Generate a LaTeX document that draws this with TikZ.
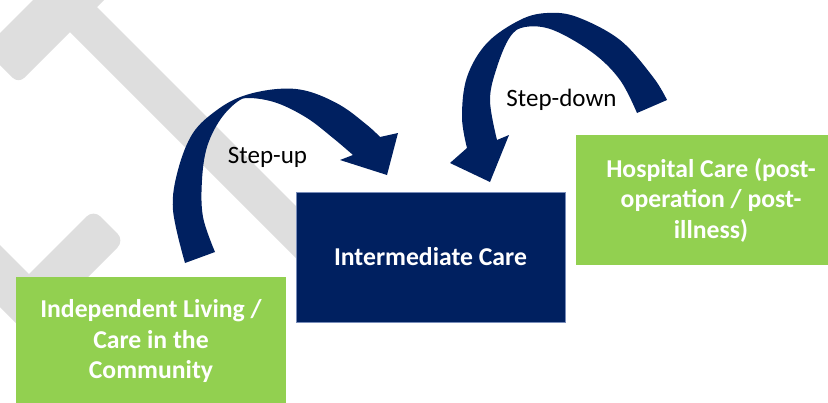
\documentclass[tikz,border=0pt]{standalone}
\usepackage{fontspec}
\setmainfont{Carlito}
\definecolor{navy}{RGB}{0,32,96}
\definecolor{lgreen}{RGB}{146,208,80}
\definecolor{wmgray}{RGB}{222,222,222}
\definecolor{navyedge}{RGB}{120,140,185}
\begin{document}
\begin{tikzpicture}[x=1pt,y=-1pt,
  boxtext/.style={font=\bfseries\fontsize{25.7}{30.5}\selectfont, text=white, align=center, inner sep=0pt, outer sep=0pt},
  steplabel/.style={font=\fontsize{25}{30}\selectfont, text=black, anchor=base, inner sep=0pt},
  bentarrow/.style={fill=navy}]
\useasboundingbox (0,0) rectangle (828,402);
\fill[white] (0,0) rectangle (828,402);
% watermark
\fill[wmgray] (-16,49) [rounded corners=8pt] -- (18.5,83.5) [sharp corners] -- (70,32) -- (340,302) -- (340,250) -- (97,7) -- (120,-16) -- (49,-16) -- cycle;
\fill[wmgray] (29,274) [rounded corners=10pt] -- (93.5,209.5) -- (124.5,240.5) [sharp corners] -- (29,336) -- (-20,287) -- (-20,225) -- cycle;
% boxes
\node[boxtext, fill=lgreen, minimum width=270pt, minimum height=128pt] (indep) at (151,341) {Independent Living /\\Care in the\\Community};
\node[boxtext, fill=lgreen, minimum width=270pt, minimum height=130pt] (hosp) at (711,200) {Hospital Care (post-\\operation / post-\\illness)};
\node[boxtext, fill=navy, draw=navyedge, line width=0.5pt, minimum width=269pt, minimum height=130pt] (inter) at (430.5,257) {Intermediate Care};
% curved arrows
\fill[bentarrow] plot[smooth,tension=0.6] coordinates {(185,263) (173,210) (178,170) (193,133) (217,110) (243,96) (277,89) (307,91) (340,105) (367,125) (380,137)} -- (398,133) -- (387,175) -- (340,160) -- plot[smooth,tension=0.6] coordinates {(353,155) (333,138) (307,118) (277,103) (250,98) (237,102) (220,120) (207,147) (202,180) (203,217) (215,252)} -- cycle;
\fill[bentarrow] plot[smooth,tension=0.6] coordinates {(667,100) (653,77) (620,40) (577,17) (547,13) (520,20) (487,43) (467,77) (462,117) (467,148)} -- (450,163) -- (490,182) -- (509,135) -- plot[smooth,tension=0.6] coordinates {(497,140) (490,100) (497,67) (510,37) (525,27) (553,30) (593,53) (620,80) (637,113)} -- cycle;
% labels
\node[steplabel] (up) at (267.5,163) {Step-up};
\node[steplabel] (down) at (561.5,106) {Step-down};
\end{tikzpicture}
\end{document}
